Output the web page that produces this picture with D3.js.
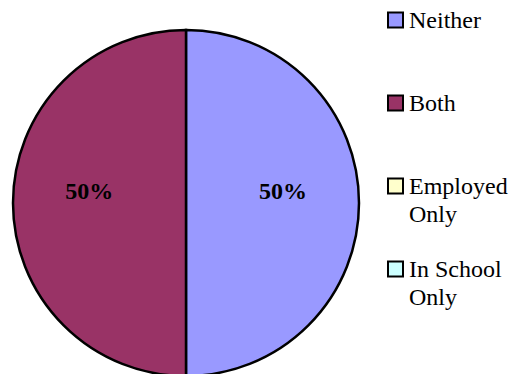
<!DOCTYPE html>
<html>
<head>
<meta charset="utf-8">
<script src="https://cdn.jsdelivr.net/npm/d3@7"></script>
<style>
  html, body { margin: 0; padding: 0; background: #fff; }
  svg { display: block; }
  svg text { font-family: "Liberation Serif", "Times New Roman", Times, "DejaVu Serif", serif; }
</style>
</head>
<body>
<svg id="chart" width="511" height="374"></svg>
<script>
// ---- data ----
const categories = ["Neither", "Both", "Employed Only", "In School Only"];
const values = [50, 50, 0, 0];
const legendLines = [["Neither"], ["Both"], ["Employed", "Only"], ["In School", "Only"]];
const colors = ["#9999FF", "#993366", "#FFFFCC", "#CCFFFF"];

const data = categories.map((c, i) => ({ name: c, value: values[i], lines: legendLines[i] }));

const svg = d3.select("#chart");
const cx = 186, cy = 203, r = 173;

const color = d3.scaleOrdinal().domain(categories).range(colors);
const total = d3.sum(values);

const pie = d3.pie().sort(null).value(d => d.value);
const arcs = pie(data);
const arc = d3.arc().innerRadius(0).outerRadius(r);
const labelArc = d3.arc().innerRadius(r * 0.56).outerRadius(r * 0.56);

const g = svg.append("g").attr("transform", `translate(${cx},${cy})`);

g.selectAll("path.slice")
  .data(arcs.filter(d => d.value > 0))
  .join("path")
  .attr("class", "slice")
  .attr("d", arc)
  .attr("fill", d => color(d.data.name))
  .attr("stroke", "#000")
  .attr("stroke-width", 2.5)
  .attr("stroke-linejoin", "miter");

g.selectAll("text.lbl")
  .data(arcs.filter(d => d.value > 0))
  .join("text")
  .attr("class", "lbl")
  .attr("x", d => labelArc.centroid(d)[0])
  .attr("y", d => labelArc.centroid(d)[1] - 4)
  .attr("text-anchor", "middle")
  .style("font-weight", "bold")
  .style("font-size", "24px")
  .attr("fill", "#000")
  .text(d => Math.round(d.value / total * 100) + "%");

// ---- legend ----
const ly = d3.scalePoint().domain(categories).range([28, 277]);
const leg = svg.append("g");
const items = leg.selectAll("g.item").data(data).join("g").attr("class", "item");

items.append("rect")
  .attr("x", 388)
  .attr("y", d => ly(d.name) - 15.5)
  .attr("width", 15)
  .attr("height", 15)
  .attr("fill", d => color(d.name))
  .attr("stroke", "#000")
  .attr("stroke-width", 2);

items.append("text")
  .attr("x", 409)
  .attr("y", d => ly(d.name))
  .style("font-size", "24px")
  .attr("fill", "#000")
  .selectAll("tspan")
  .data(d => d.lines)
  .join("tspan")
  .attr("x", 409)
  .attr("dy", (d, i) => i === 0 ? 0 : 28)
  .text(d => d);
</script>
</body>
</html>
